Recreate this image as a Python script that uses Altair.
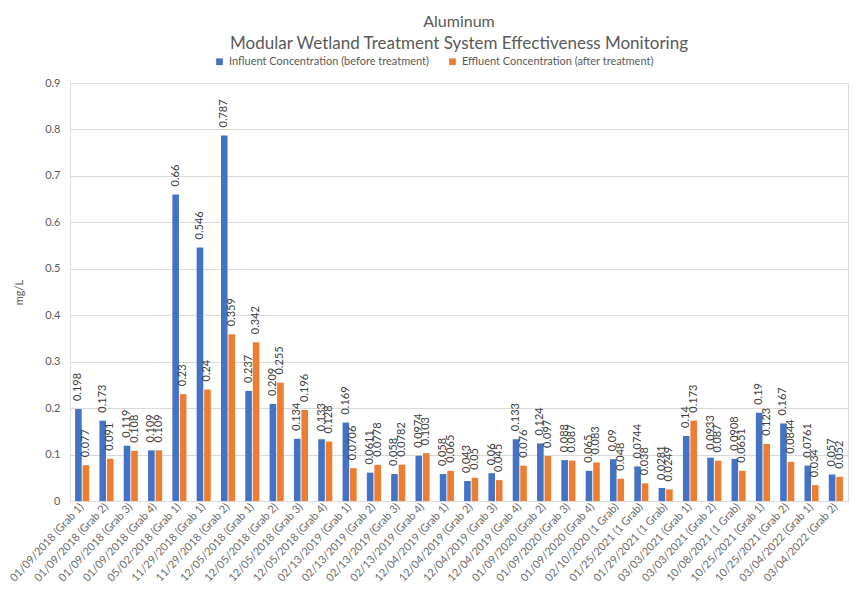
import altair as alt
import pandas as pd

categories = [
    "01/09/2018 (Grab 1)", "01/09/2018 (Grab 2)", "01/09/2018 (Grab 3)", "01/09/2018 (Grab 4)",
    "05/02/2018 (Grab 1)", "11/29/2018 (Grab 1)", "11/29/2018 (Grab 2)", "12/05/2018 (Grab 1)",
    "12/05/2018 (Grab 2)", "12/05/2018 (Grab 3)", "12/05/2018 (Grab 4)", "02/13/2019 (Grab 1)",
    "02/13/2019 (Grab 2)", "02/13/2019 (Grab 3)", "02/13/2019 (Grab 4)", "12/04/2019 (Grab 1)",
    "12/04/2019 (Grab 2)", "12/04/2019 (Grab 3)", "12/04/2019 (Grab 4)", "01/09/2020 (Grab 2)",
    "01/09/2020 (Grab 3)", "01/09/2020 (Grab 4)", "02/10/2020 (1 Grab)", "01/25/2021 (1 Grab)",
    "01/29/2021 (1 Grab)", "03/03/2021 (Grab 1)", "03/03/2021 (Grab 2)", "10/08/2021 (1 Grab)",
    "10/25/2021 (Grab 1)", "10/25/2021 (Grab 2)", "03/04/2022 (Grab 1)", "03/04/2022 (Grab 2)",
]
influent = [
    0.198, 0.173, 0.119, 0.109, 0.66, 0.546, 0.787, 0.237,
    0.209, 0.134, 0.133, 0.169, 0.0611, 0.058, 0.0974, 0.058,
    0.043, 0.06, 0.133, 0.124, 0.088, 0.065, 0.09, 0.0744,
    0.0281, 0.14, 0.0933, 0.0908, 0.19, 0.167, 0.0761, 0.057,
]
effluent = [
    0.077, 0.091, 0.108, 0.109, 0.23, 0.24, 0.359, 0.342,
    0.255, 0.196, 0.128, 0.0706, 0.0778, 0.0782, 0.103, 0.065,
    0.05, 0.045, 0.076, 0.097, 0.087, 0.083, 0.048, 0.038,
    0.0249, 0.173, 0.087, 0.0651, 0.123, 0.0844, 0.034, 0.052,
]
series = ["Influent Concentration (before treatment)", "Effluent Concentration (after treatment)"]
colors = ["#4472C4", "#ED7D31"]
y_ticks = [0, 0.1, 0.2, 0.3, 0.4, 0.5, 0.6, 0.7, 0.8, 0.9]

rows = []
for i, c in enumerate(categories):
    rows.append({"cat": c, "series": series[0], "value": influent[i]})
    rows.append({"cat": c, "series": series[1], "value": effluent[i]})
df = pd.DataFrame(rows)

FONT = "Lato"

x = alt.X("cat:N", sort=categories, title=None,
          scale=alt.Scale(paddingInner=0.42, paddingOuter=0.21),
          axis=alt.Axis(labelAngle=-47, labelFontSize=11, labelColor="#6b6b6b",
                        labelFont=FONT, ticks=False, domainColor="#D9D9D9",
                        labelPadding=4, labelOverlap=False))
xoff = alt.XOffset("series:N", sort=series, scale=alt.Scale(paddingInner=0.12))
y = alt.Y("value:Q", title="mg/L",
          scale=alt.Scale(domain=[0, 0.9], nice=False),
          axis=alt.Axis(values=y_ticks, format=".1~f", labelFontSize=11,
                        labelColor="#595959", labelFont=FONT, ticks=False,
                        domain=False, gridColor="#D9D9D9", labelPadding=10,
                        titleFont=FONT, titleFontSize=11, titleFontWeight="normal",
                        titleColor="#595959", titlePadding=20))
color = alt.Color("series:N", sort=series,
                  scale=alt.Scale(domain=series, range=colors),
                  legend=alt.Legend(title=None, orient="none", direction="horizontal",
                                    legendX=144, legendY=-27, symbolType="square",
                                    symbolSize=45, labelFontSize=11, labelFont=FONT,
                                    labelColor="#595959", columnPadding=18,
                                    labelLimit=400, symbolStrokeWidth=0))

bars = alt.Chart(df).mark_bar().encode(x=x, xOffset=xoff, y=y, color=color)
labels = alt.Chart(df).mark_text(angle=270, align="left", baseline="middle", dx=8,
                                 fontSize=11, font=FONT, color="#404040").encode(
    x=x, xOffset=xoff, y=y, text=alt.Text("value:Q", format="~g"))

chart = (bars + labels).properties(
    width=778, height=418,
    padding={"left": 62, "top": 75, "right": 8, "bottom": 87},
    autosize=alt.AutoSizeParams(type="none"),
    title=alt.TitleParams(text="Aluminum",
                          subtitle="Modular Wetland Treatment System Effectiveness Monitoring",
                          anchor="middle", font=FONT, fontSize=16, fontWeight="normal",
                          color="#595959", subtitleFont=FONT, subtitleFontSize=17,
                          subtitleColor="#595959", subtitlePadding=6, offset=4),
).configure_view(stroke=None).configure(background="white")

chart.save("out.html", embed_options={"renderer": "svg", "actions": False})
